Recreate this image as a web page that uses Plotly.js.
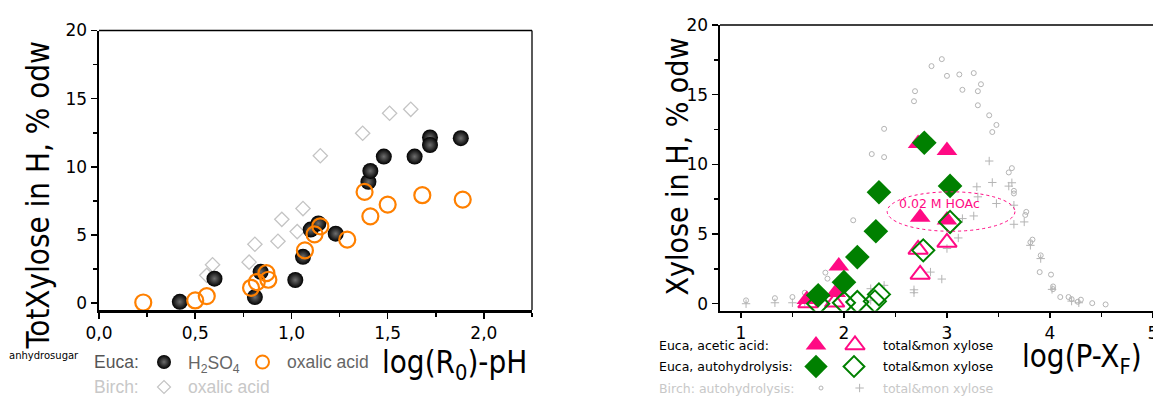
<!DOCTYPE html>
<html>
<head>
<meta charset="utf-8">
<script src="https://cdn.plot.ly/plotly-3.0.1.min.js"></script>
<style>html,body{margin:0;padding:0;background:#fff;}#chart{width:1153px;height:397px;}</style>
</head>
<body>
<div id="chart"></div>
<script>
// ---------- Left panel: TotXylose vs log(R0)-pH ----------
const eucaH2SO4_x = [0.42, 0.60, 0.81, 0.84, 1.02, 1.06, 1.10, 1.14, 1.23, 1.40, 1.41, 1.48, 1.64, 1.72, 1.72, 1.88];
const eucaH2SO4_y = [0.1, 1.8, 0.45, 2.3, 1.7, 3.4, 5.4, 5.85, 5.1, 8.9, 9.7, 10.75, 10.75, 12.15, 11.6, 12.1];
const eucaOxalic_x = [0.23, 0.50, 0.56, 0.79, 0.82, 0.87, 0.88, 1.07, 1.12, 1.15, 1.29, 1.38, 1.41, 1.50, 1.68, 1.89];
const eucaOxalic_y = [0.05, 0.2, 0.52, 1.13, 1.55, 2.2, 1.72, 3.87, 5.05, 5.64, 4.66, 8.16, 6.37, 7.23, 7.92, 7.6];
const birchOxalic_x = [0.56, 0.59, 0.78, 0.81, 0.93, 0.95, 1.03, 1.06, 1.15, 1.37, 1.51, 1.62];
const birchOxalic_y = [2.04, 2.82, 3.01, 4.32, 4.54, 6.15, 5.25, 6.94, 10.81, 12.46, 13.93, 14.22];

// ---------- Right panel: Xylose vs log(P-XF) ----------
const aceticTot_x = [1.64, 1.92, 1.95, 2.72, 3.00, 2.74, 3.00];
const aceticTot_y = [0.3, 0.8, 2.7, 11.5, 11.0, 6.2, 6.0];
const aceticMon_x = [1.65, 1.91, 2.72, 2.74, 3.00];
const aceticMon_y = [0.05, 0.1, 3.9, 2.1, 4.4];
const autoTot_x = [1.75, 2.00, 2.13, 2.31, 2.34, 2.78, 3.03];
const autoTot_y = [0.6, 1.55, 3.35, 5.2, 8.0, 11.55, 8.45];
const autoMon_x = [1.75, 2.00, 2.13, 2.30, 2.34, 2.77, 3.03];
const autoMon_y = [0.0, 0.07, 0.12, 0.17, 0.67, 3.83, 5.87];
const birchTot_x = [1.05,1.33,1.50,1.62,1.82,1.84,2.09,2.27,2.39,2.39,2.68,2.69,2.85,2.95,3.00,3.12,3.15,3.26,3.30,3.30,3.33,3.41,3.44,3.48,3.60,3.63,3.65,3.65,3.76,3.77,3.81,3.83,3.90,3.91,4.01,4.03,4.03,4.10,4.18,4.21,4.27,4.30,4.41,4.54];
const birchTot_y = [0.24,0.4,0.48,0.79,2.23,1.8,5.99,10.74,12.55,10.52,14.53,15.25,17.05,17.55,16.35,16.45,15.35,16.55,15.25,14.24,15.75,13.52,12.32,12.83,9.42,9.73,8.1,7.91,6.37,6.59,4.41,4.6,2.27,3.47,2.09,1.24,1.05,0.48,0.48,0.33,0.14,0.29,0.04,-0.05];
const birchMon_x = [1.05,1.33,1.50,1.62,1.83,2.26,2.26,2.39,2.68,2.68,2.84,2.95,3.00,3.11,3.15,3.26,3.29,3.30,3.41,3.44,3.48,3.60,3.63,3.65,3.65,3.75,3.81,3.91,4.02,4.21,4.28];
const birchMon_y = [0.0,0.07,0.07,0.12,0.2,0.24,1.08,1.32,1.0,0.79,2.27,1.77,3.96,4.72,6.11,6.3,8.39,7.67,10.24,8.7,7.19,8.44,8.68,7.07,5.7,5.87,4.19,3.24,1.03,0.19,0.07];

// ---------- Texts ----------
const leftYTitle = 'TotXylose in H, % odw';
const rightYTitle = 'Xylose in H, % odw';
const leftXTitle = 'log(R<sub>0</sub>)-pH';
const rightXTitle = 'log(P-X<sub>F</sub>)';
const hoacLabel = '0.02 M HOAc';

// ---------- Styles ----------
function hasFont(name){
  const c = document.createElement('canvas').getContext('2d');
  const s = 'abcdefghijklmnopqrstuvwxyzXYZ0123';
  c.font = '40px monospace'; const w0 = c.measureText(s).width;
  c.font = '40px "' + name + '", monospace'; const w1 = c.measureText(s).width;
  return Math.abs(w1 - w0) > 0.5;
}
const COMIC = 'DejaVu Sans';
const ARIAL = 'Liberation Sans';
const condensed = hasFont('DejaVu Sans Condensed');
const TITLE = condensed ? 'DejaVu Sans Condensed' : 'DejaVu Sans';
const tScale = condensed ? 1.11 : 1.0;
const PINK = '#ff0a84';
const GREEN = '#008000';
const ORANGE = '#ff8000';
const LGREY = '#c4c4c4';
const W = 1153, H = 397;

function pxX(p){ return p / W; }
function pxY(p){ return 1 - p / H; }

const noHover = {hoverinfo: 'skip'};
const sphere = {symbol: 'circle', color: '#000', gradient: {type: 'radial', color: '#6e6e6e'}, line: {width: 0}};

const traces = [
  // left panel
  Object.assign({x: birchOxalic_x, y: birchOxalic_y, xaxis: 'x', yaxis: 'y', type: 'scatter', mode: 'markers',
    marker: {symbol: 'diamond-open', size: 11, color: LGREY, line: {width: 1.3, color: LGREY}}}, noHover),
  Object.assign({x: eucaH2SO4_x, y: eucaH2SO4_y, xaxis: 'x', yaxis: 'y', type: 'scatter', mode: 'markers',
    marker: Object.assign({size: 16}, sphere)}, noHover),
  Object.assign({x: eucaOxalic_x, y: eucaOxalic_y, xaxis: 'x', yaxis: 'y', type: 'scatter', mode: 'markers',
    marker: {symbol: 'circle-open', size: 16, color: ORANGE, line: {width: 2.2, color: ORANGE}}}, noHover),
  // right panel
  Object.assign({x: birchTot_x, y: birchTot_y, xaxis: 'x2', yaxis: 'y2', type: 'scatter', mode: 'markers',
    marker: {symbol: 'circle-open', size: 5, color: '#b4b4b4', line: {width: 1, color: '#b4b4b4'}}}, noHover),
  Object.assign({x: birchMon_x, y: birchMon_y, xaxis: 'x2', yaxis: 'y2', type: 'scatter', mode: 'markers',
    marker: {symbol: 'cross-thin-open', size: 6, color: '#b4b4b4', line: {width: 1, color: '#b4b4b4'}}}, noHover),
  Object.assign({x: aceticTot_x, y: aceticTot_y, xaxis: 'x2', yaxis: 'y2', type: 'scatter', mode: 'markers',
    marker: {symbol: 'triangle-up', size: 18, color: PINK, line: {width: 0}}}, noHover),
  Object.assign({x: aceticMon_x, y: aceticMon_y, xaxis: 'x2', yaxis: 'y2', type: 'scatter', mode: 'markers',
    marker: {symbol: 'triangle-up-open', size: 17, color: PINK, line: {width: 2, color: PINK}}}, noHover),
  Object.assign({x: autoTot_x, y: autoTot_y, xaxis: 'x2', yaxis: 'y2', type: 'scatter', mode: 'markers',
    marker: {symbol: 'diamond', size: 19, color: GREEN, line: {width: 0}}}, noHover),
  Object.assign({x: autoMon_x, y: autoMon_y, xaxis: 'x2', yaxis: 'y2', type: 'scatter', mode: 'markers',
    marker: {symbol: 'diamond-open', size: 17, color: GREEN, line: {width: 2, color: GREEN}}}, noHover)
];

// legend keys on a pixel overlay axis
const legendKeys = [
  {x: 164, y: 362, marker: Object.assign({size: 14}, sphere)},
  {x: 262.5, y: 362, marker: {symbol: 'circle-open', size: 13, color: ORANGE, line: {width: 2, color: ORANGE}}},
  {x: 164, y: 387, marker: {symbol: 'diamond-open', size: 10, color: LGREY, line: {width: 1.2, color: LGREY}}},
  {x: 816, y: 345, marker: {symbol: 'triangle-up', size: 18, color: PINK, line: {width: 0}}},
  {x: 855, y: 345, marker: {symbol: 'triangle-up-open', size: 17, color: PINK, line: {width: 2, color: PINK}}},
  {x: 816, y: 366.5, marker: {symbol: 'diamond', size: 18, color: GREEN, line: {width: 0}}},
  {x: 854, y: 366.5, marker: {symbol: 'diamond-open', size: 16, color: GREEN, line: {width: 2, color: GREEN}}},
  {x: 821, y: 388, marker: {symbol: 'circle-open', size: 4, color: '#b4b4b4', line: {width: 1, color: '#b4b4b4'}}},
  {x: 859.6, y: 388, marker: {symbol: 'cross-thin-open', size: 6, color: '#b4b4b4', line: {width: 1, color: '#b4b4b4'}}}
];
legendKeys.forEach(k => traces.push({x: [k.x], y: [k.y], xaxis: 'x3', yaxis: 'y3', type: 'scatter', mode: 'markers',
  marker: k.marker, cliponaxis: false, hoverinfo: 'skip'}));

const tickFont = {family: COMIC, size: 17, color: '#000'};
function axisBase(extra){
  return Object.assign({showline: true, linewidth: 2.5, linecolor: '#000', showgrid: false, zeroline: false,
    ticks: 'outside', ticklen: 6, tickwidth: 1.5, tickcolor: '#000', tickfont: tickFont, fixedrange: true}, extra);
}

function ann(text, x, y, opts){
  return Object.assign({text: text, xref: 'paper', yref: 'paper', x: pxX(x), y: pxY(y), showarrow: false,
    xanchor: 'left', yanchor: 'middle', borderpad: 0}, opts);
}

const annotations = [
  ann(leftYTitle, 37.5, 196, {textangle: -90, xanchor: 'center', font: {family: TITLE, size: 28 * tScale, color: '#000'}}),
  ann(rightYTitle, 677, 166.5, {textangle: -90, xanchor: 'center', font: {family: TITLE, size: 27 * tScale, color: '#000'}}),
  ann('anhydrosugar', 8, 355, {font: {family: COMIC, size: 10, color: '#000'}}),
  ann(leftXTitle, 381, 364, {font: {family: TITLE, size: 28 * tScale, color: '#000'}}),
  ann(rightXTitle, 1021, 358, {font: {family: TITLE, size: 28 * tScale, color: '#000'}}),
  ann('Euca:', 93, 362, {font: {family: ARIAL, size: 17.5, color: '#555'}}),
  ann('H<sub>2</sub>SO<sub>4</sub>', 187, 364, {font: {family: ARIAL, size: 17.5, color: '#666'}}),
  ann('oxalic acid', 286, 362, {font: {family: ARIAL, size: 17.5, color: '#666'}}),
  ann('Birch:', 93, 387, {font: {family: ARIAL, size: 17.5, color: '#c8c8c8'}}),
  ann('oxalic acid', 187, 387, {font: {family: ARIAL, size: 17.5, color: '#c8c8c8'}}),
  ann('Euca, acetic acid:', 658, 345.5, {font: {family: COMIC, size: 12.5, color: '#000'}}),
  ann('total&amp;mon xylose', 882, 345.5, {font: {family: COMIC, size: 12.5, color: '#000'}}),
  ann('Euca, autohydrolysis:', 658, 366.5, {font: {family: COMIC, size: 12.5, color: '#000'}}),
  ann('total&amp;mon xylose', 882, 366.5, {font: {family: COMIC, size: 12.5, color: '#000'}}),
  ann('Birch: autohydrolysis:', 658, 388, {font: {family: COMIC, size: 12.5, color: '#c8c8c8'}}),
  ann('total&amp;mon xylose', 882, 388, {font: {family: COMIC, size: 12.5, color: '#c8c8c8'}}),
  {text: hoacLabel, xref: 'x2', yref: 'y2', x: 2.93, y: 7.2, showarrow: false, xanchor: 'center', yanchor: 'middle',
    font: {family: COMIC, size: 12.5, color: PINK}}
];

const shapes = [
  {type: 'line', xref: 'x domain', yref: 'y domain', x0: 0, x1: 1, y0: 1, y1: 1, line: {color: '#000', width: 1.3}},
  {type: 'line', xref: 'x domain', yref: 'y domain', x0: 1, x1: 1, y0: 0, y1: 1, line: {color: '#000', width: 1.3}},
  {type: 'line', xref: 'x2 domain', yref: 'y2 domain', x0: 0, x1: 1, y0: 1, y1: 1, line: {color: '#000', width: 1.3}},
  {type: 'circle', xref: 'x2', yref: 'y2', x0: 2.42, x1: 3.66, y0: 5.2, y1: 8.03, line: {color: PINK, width: 1, dash: 'dot'}}
];

const layout = {
  width: W, height: H, margin: {l: 0, r: 0, t: 0, b: 0}, paper_bgcolor: '#fff', plot_bgcolor: 'rgba(0,0,0,0)',
  showlegend: false, separators: ',.',
  xaxis: axisBase({domain: [pxX(99), pxX(532)], range: [0, 2.25], anchor: 'y', dtick: 0.5, tick0: 0, tickformat: '.1f',
    minor: {ticks: 'outside', ticklen: 4, tickwidth: 1.5, tickcolor: '#000', dtick: 0.25, tick0: 0, showgrid: false}}),
  yaxis: axisBase({domain: [pxY(310), pxY(30.5)], range: [-0.5, 20], anchor: 'x', dtick: 5, tick0: 0,
    minor: {ticks: 'outside', ticklen: 4, tickwidth: 1.5, tickcolor: '#000', dtick: 2.5, tick0: 0, showgrid: false}}),
  xaxis2: axisBase({domain: [pxX(720), 1], range: [0.797, 5.0], anchor: 'y2', dtick: 1, tick0: 0, ticklabeloverflow: 'allow',
    ticklen: 5,
    minor: {ticks: 'outside', ticklen: 4, tickwidth: 1.5, tickcolor: '#000', dtick: 0.5, tick0: 0, showgrid: false}}),
  yaxis2: axisBase({domain: [pxY(310.7), pxY(25)], range: [-0.5, 20], anchor: 'x2', dtick: 5, tick0: 0,
    minor: {ticks: 'outside', ticklen: 4, tickwidth: 1.5, tickcolor: '#000', dtick: 2.5, tick0: 0, showgrid: false}}),
  xaxis3: {domain: [0, 1], range: [0, W], visible: false, fixedrange: true, anchor: 'y3'},
  yaxis3: {domain: [0, 1], range: [H, 0], visible: false, fixedrange: true, anchor: 'x3'},
  annotations: annotations,
  shapes: shapes
};

Plotly.newPlot('chart', traces, layout, {displayModeBar: false, staticPlot: true});
</script>
</body>
</html>
